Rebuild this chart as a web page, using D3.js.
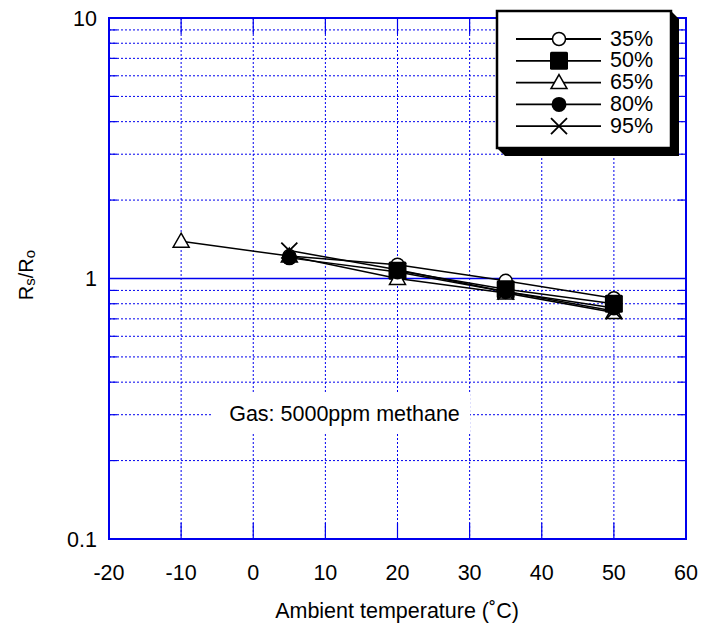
<!DOCTYPE html>
<html>
<head>
<meta charset="utf-8">
<script src="https://cdn.jsdelivr.net/npm/d3@7"></script>
<style>
  body { margin: 0; background: #fff; }
  svg { display: block; font-family: "Liberation Sans", Arial, sans-serif; }
</style>
</head>
<body>
<svg width="714" height="624"></svg>
<script>
// humidity series, Rs/Ro vs ambient temperature
const seriesNames = ["35%", "50%", "65%", "80%", "95%"];
const symbols = ["circleOpen", "square", "triangle", "circleFilled", "cross"];
const temps35 = [5, 20, 35, 50];
const vals35 = [1.22, 1.13, 0.98, 0.84];
const temps50 = [20, 35, 50];
const vals50 = [1.07, 0.91, 0.80];
const temps65 = [-10, 5, 20, 35, 50];
const vals65 = [1.39, 1.22, 1.00, 0.88, 0.74];
const temps80 = [5, 20, 35, 50];
const vals80 = [1.20, 1.06, 0.89, 0.77];
const temps95 = [5, 20, 35, 50];
const vals95 = [1.28, 1.08, 0.89, 0.75];

const xTicks = [-20, -10, 0, 10, 20, 30, 40, 50, 60];
const yTicks = [0.1, 1, 10];
const annotation = "Gas: 5000ppm methane";

const series = [
    { name: seriesNames[0], sym: symbols[0], pts: temps35.map((t, i) => [t, vals35[i]]) },
    { name: seriesNames[1], sym: symbols[1], pts: temps50.map((t, i) => [t, vals50[i]]) },
    { name: seriesNames[2], sym: symbols[2], pts: temps65.map((t, i) => [t, vals65[i]]) },
    { name: seriesNames[3], sym: symbols[3], pts: temps80.map((t, i) => [t, vals80[i]]) },
    { name: seriesNames[4], sym: symbols[4], pts: temps95.map((t, i) => [t, vals95[i]]) }
];

const svg = d3.select("svg");
const blue = "#0000ee";
const pLeft = 109, pRight = 686, pTop = 18, pBottom = 539;

const x = d3.scaleLinear().domain([-20, 60]).range([pLeft, pRight]);
const y = d3.scaleLog().domain([0.1, 10]).range([pBottom, pTop]);

// minor values 2..9 per decade
const minor = [];
[0.1, 1].forEach(d => { for (let k = 2; k <= 9; k++) minor.push(d * k); });

const grid = svg.append("g");

// dotted horizontal minor lines with short solid ticks at both sides
grid.selectAll("line.hmin").data(minor).enter().append("line")
    .attr("x1", pLeft).attr("x2", pRight)
    .attr("y1", d => y(d)).attr("y2", d => y(d))
    .attr("stroke", blue).attr("stroke-width", 1)
    .attr("stroke-dasharray", "2,2");
grid.selectAll("line.hmtl").data(minor).enter().append("line")
    .attr("x1", pLeft).attr("x2", pLeft + 8)
    .attr("y1", d => y(d)).attr("y2", d => y(d))
    .attr("stroke", blue).attr("stroke-width", 1.2);
grid.selectAll("line.hmtr").data(minor).enter().append("line")
    .attr("x1", pRight - 8).attr("x2", pRight)
    .attr("y1", d => y(d)).attr("y2", d => y(d))
    .attr("stroke", blue).attr("stroke-width", 1.2);

// dotted vertical lines with solid ticks top and bottom
const inner = xTicks.slice(1, -1);
grid.selectAll("line.v").data(inner).enter().append("line")
    .attr("x1", d => x(d)).attr("x2", d => x(d))
    .attr("y1", pTop).attr("y2", pBottom)
    .attr("stroke", blue).attr("stroke-width", 1)
    .attr("stroke-dasharray", "2,2");
grid.selectAll("line.vtb").data(inner).enter().append("line")
    .attr("x1", d => x(d)).attr("x2", d => x(d))
    .attr("y1", pBottom - 16).attr("y2", pBottom)
    .attr("stroke", blue).attr("stroke-width", 1.2);
grid.selectAll("line.vtt").data(inner).enter().append("line")
    .attr("x1", d => x(d)).attr("x2", d => x(d))
    .attr("y1", pTop).attr("y2", pTop + 16)
    .attr("stroke", blue).attr("stroke-width", 1.2);

// solid major line at 1
grid.append("line")
    .attr("x1", pLeft).attr("x2", pRight)
    .attr("y1", y(1)).attr("y2", y(1))
    .attr("stroke", blue).attr("stroke-width", 1.5);

// frame
svg.append("rect")
    .attr("x", pLeft).attr("y", pTop)
    .attr("width", pRight - pLeft).attr("height", pBottom - pTop)
    .attr("fill", "none").attr("stroke", blue).attr("stroke-width", 2);

// annotation box
const ann = svg.append("g");
ann.append("rect")
    .attr("x", 213).attr("y", 394).attr("width", 257).attr("height", 38)
    .attr("fill", "#fff");
ann.append("text")
    .attr("x", 344.5).attr("y", 421)
    .attr("text-anchor", "middle")
    .attr("font-size", 21.5)
    .text(annotation);

// tick labels
svg.append("g").selectAll("text").data(xTicks).enter().append("text")
    .attr("x", d => x(d)).attr("y", 580)
    .attr("text-anchor", "middle").attr("font-size", 21.5)
    .text(d => d);
svg.append("g").selectAll("text").data(yTicks).enter().append("text")
    .attr("x", 97).attr("y", d => y(d) + 7.5)
    .attr("text-anchor", "end").attr("font-size", 21.5)
    .text(d => d);

// axis titles
svg.append("text")
    .attr("x", 397).attr("y", 618)
    .attr("text-anchor", "middle").attr("font-size", 21.5)
    .text("Ambient temperature (˚C)");
const yt = svg.append("text")
    .attr("transform", "translate(33,275) rotate(-90)")
    .attr("text-anchor", "middle").attr("font-size", 20);
yt.append("tspan").text("R");
yt.append("tspan").attr("font-size", 15).attr("dy", 2).text("s");
yt.append("tspan").attr("dy", -2).text("/R");
yt.append("tspan").attr("font-size", 15).attr("dy", 2).text("o");

// markers
function drawSymbol(g, sym, cx, cy) {
    if (sym === "circleOpen") {
        g.append("circle").attr("cx", cx).attr("cy", cy).attr("r", 6.5)
            .attr("fill", "#fff").attr("stroke", "#000").attr("stroke-width", 1.5);
    } else if (sym === "circleFilled") {
        g.append("circle").attr("cx", cx).attr("cy", cy).attr("r", 7.5)
            .attr("fill", "#000");
    } else if (sym === "square") {
        g.append("rect").attr("x", cx - 9).attr("y", cy - 9)
            .attr("width", 18).attr("height", 18).attr("rx", 1.5).attr("fill", "#000");
    } else if (sym === "triangle") {
        g.append("path")
            .attr("d", `M${cx},${cy - 8}L${cx + 8},${cy + 6}L${cx - 8},${cy + 6}Z`)
            .attr("fill", "#fff").attr("stroke", "#000").attr("stroke-width", 1.5);
    } else if (sym === "cross") {
        g.append("path")
            .attr("d", `M${cx - 8},${cy - 8}L${cx + 8},${cy + 8}M${cx + 8},${cy - 8}L${cx - 8},${cy + 8}`)
            .attr("stroke", "#000").attr("stroke-width", 1.8);
    }
}

const line = d3.line().x(d => x(d[0])).y(d => y(d[1]));
const plot = svg.append("g");
series.forEach(s => {
    plot.append("path").datum(s.pts)
        .attr("d", line)
        .attr("fill", "none").attr("stroke", "#000").attr("stroke-width", 1.5);
});
series.forEach(s => {
    s.pts.forEach(p => drawSymbol(plot, s.sym, x(p[0]), y(p[1])));
});

// legend with chamfered drop shadow
const lg = svg.append("g");
const lx = 497, ly = 11, lw = 174, lh = 137, sh = 8;
lg.append("path")
    .attr("d", `M${lx + lw},${ly}L${lx + lw + sh},${ly + sh}L${lx + lw + sh},${ly + lh + sh}` +
        `L${lx + sh},${ly + lh + sh}L${lx},${ly + lh}Z`)
    .attr("fill", "#000");
lg.append("rect").attr("x", lx).attr("y", ly)
    .attr("width", lw).attr("height", lh)
    .attr("fill", "#fff").attr("stroke", "#000").attr("stroke-width", 2.5);
series.forEach((s, i) => {
    const ry = 39 + i * 21.8;
    lg.append("line").attr("x1", 516).attr("x2", 601)
        .attr("y1", ry).attr("y2", ry)
        .attr("stroke", "#000").attr("stroke-width", 1.8);
    drawSymbol(lg, s.sym, 559, ry);
    lg.append("text").attr("x", 610).attr("y", ry + 6.5)
        .attr("font-size", 21.5).text(s.name);
});
</script>
</body>
</html>
